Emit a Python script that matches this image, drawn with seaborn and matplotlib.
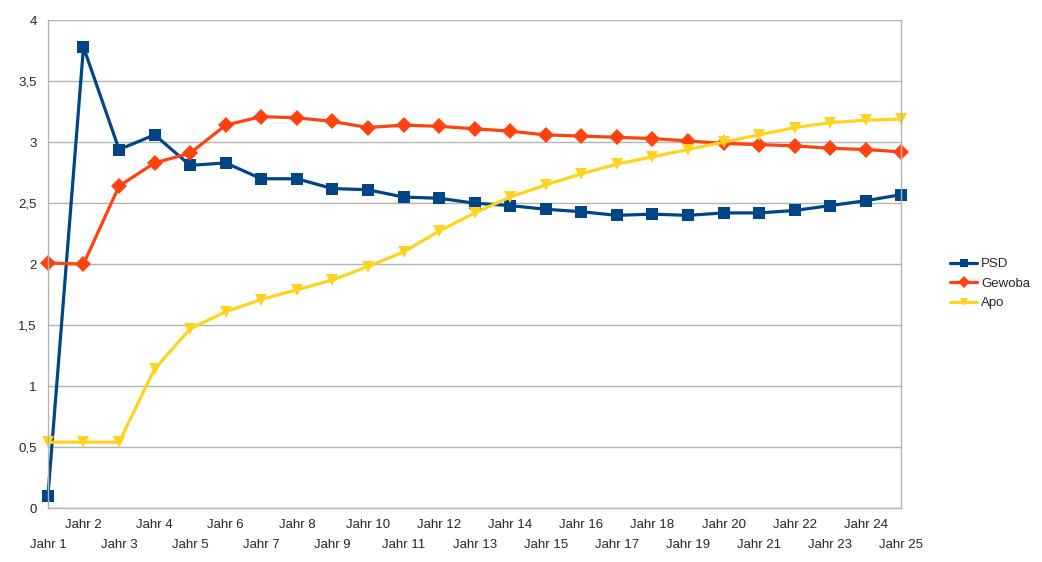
import matplotlib.pyplot as plt
import pandas as pd
import seaborn as sns

# Values
jahre = ['Jahr %d' % i for i in range(1, 26)]
psd = [0.10, 3.78, 2.94, 3.06, 2.81, 2.83, 2.70, 2.70, 2.62, 2.61, 2.55, 2.54, 2.50,
       2.48, 2.45, 2.43, 2.40, 2.41, 2.40, 2.42, 2.42, 2.44, 2.48, 2.52, 2.57]
gewoba = [2.01, 2.00, 2.64, 2.83, 2.91, 3.14, 3.21, 3.20, 3.17, 3.12, 3.14, 3.13, 3.11,
          3.09, 3.06, 3.05, 3.04, 3.03, 3.01, 2.99, 2.98, 2.97, 2.95, 2.94, 2.92]
apo = [0.54, 0.54, 0.54, 1.14, 1.47, 1.61, 1.71, 1.79, 1.87, 1.98, 2.10, 2.27, 2.42,
       2.55, 2.65, 2.74, 2.82, 2.88, 2.94, 3.00, 3.06, 3.12, 3.16, 3.18, 3.19]
series = ['PSD', 'Gewoba', 'Apo']

df = pd.DataFrame({
    'jahr': jahre * 3,
    'wert': psd + gewoba + apo,
    'reihe': ['PSD'] * 25 + ['Gewoba'] * 25 + ['Apo'] * 25,
})

sns.set_style('white')
plt.rcParams['font.family'] = ['Liberation Sans', 'DejaVu Sans']

fig, ax = plt.subplots(figsize=(10.42, 5.62), dpi=100)
fig.subplots_adjust(left=0.046, right=0.865, top=0.964, bottom=0.096)

palette = {'PSD': '#004586', 'Gewoba': '#ff420e', 'Apo': '#ffd320'}
markers = {'PSD': 's', 'Gewoba': 'D', 'Apo': 'v'}
sns.lineplot(data=df, x='jahr', y='wert', hue='reihe', style='reihe', hue_order=series,
             style_order=series, palette=palette, markers=markers, dashes=False,
             linewidth=2.3, markersize=8, markeredgewidth=0, ax=ax)
for line in ax.lines:
    line.set_clip_on(False)

ax.set_xlim(0, 24)
ax.set_ylim(0, 4)
ax.set_yticks([0, 0.5, 1, 1.5, 2, 2.5, 3, 3.5, 4])
ax.set_yticklabels(['0', '0,5', '1', '1,5', '2', '2,5', '3', '3,5', '4'])
ax.set_xticks(range(25))
ax.set_xticklabels(jahre)
ax.grid(axis='y', color='#b3b3b3', linewidth=1)
ax.set_axisbelow(True)
for side in ['left', 'right', 'bottom']:
    ax.spines[side].set_color('#b3b3b3')
    ax.spines[side].set_linewidth(1)
ax.spines['top'].set_visible(False)
ax.tick_params(axis='x', length=5, color='#b3b3b3', labelsize=9.5, pad=3)
ax.tick_params(axis='y', length=4, color='#b3b3b3', labelsize=9.5, pad=4)
# alternate rows: Jahr 1, 3, 5 ... sit one line lower
for i, tick in enumerate(ax.xaxis.get_major_ticks()):
    if i % 2 == 0:
        tick.set_pad(17)
ax.set_xlabel('')
ax.set_ylabel('')

leg = ax.legend(loc='center left', bbox_to_anchor=(0.9, 0.495), bbox_transform=fig.transFigure,
                frameon=False, fontsize=9.5, handlelength=2.1, labelspacing=0.55,
                handletextpad=0.3, markerscale=0.8)

fig.savefig('out.png', dpi=100)
